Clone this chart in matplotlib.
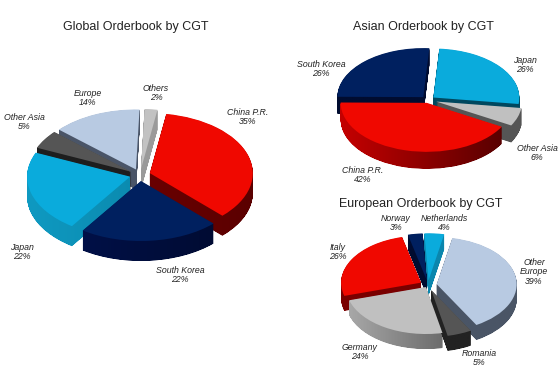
import numpy as np
import matplotlib
matplotlib.use("Agg")
import matplotlib.pyplot as plt
from matplotlib.colors import LinearSegmentedColormap
from matplotlib.path import Path
from matplotlib.patches import PathPatch

plt.rcParams['font.family'] = ['Liberation Sans', 'DejaVu Sans']

W, H = 560, 371

# Global
global_labels = ['Others', 'China P.R.', 'South Korea', 'Japan', 'Other Asia', 'Europe']
global_values = [2, 35, 22, 22, 5, 14]
global_explode = [0.10, 0.10, 0.10, 0.10, 0.10, 0.10]
global_top = ['#c2c2c2', '#f00800', '#00205f', '#0aabdc', '#555555', '#b8cae2']
global_side = [('#9a9a9a', '#9a9a9a'), ('#7a0000', '#5a0000'), ('#001250', '#000a2c'),
               ('#0f9ac2', '#067a9b'), ('#1e1e1e', '#1e1e1e'), ('#4a5568', '#4a5568')]
global_text = [(156, 93), (248, 117), (180, 275), (22, 252), (24, 122), (88, 98)]

# Asia
asia_labels = ['Japan', 'Other Asia', 'China P.R.', 'South Korea']
asia_values = [26, 6, 42, 26]
asia_explode = [0.08, 0.10, 0.06, 0.08]
asia_top = ['#0aabdc', '#c0c0c0', '#f00800', '#00205f']
asia_side = [('#00485f', '#00485f'), ('#555555', '#555555'), ('#cc0000', '#480000'), ('#000c30', '#000c30')]
asia_text = [(525, 65), (537, 153), (363, 175), (321, 69)]

# Europe
europe_labels = ['Netherlands', 'Other\nEurope', 'Romania', 'Germany', 'Italy', 'Norway']
europe_values = [4, 39, 5, 24, 26, 3]
europe_explode = [0.10, 0.11, 0.11, 0.05, 0.10, 0.10]
europe_top = ['#0aabdc', '#b8cae2', '#555555', '#c0c0c0', '#f00800', '#00205f']
europe_side = [('#0b86ad', '#0b86ad'), ('#4a5566', '#4a5566'), ('#222222', '#222222'),
               ('#b0b0b0', '#3a3a3a'), ('#7a0000', '#7a0000'), ('#000c30', '#000c30')]
europe_text = [(444, 223), (534, 272), (479, 358), (360, 352), (338, 252), (396, 223)]

fig = plt.figure(figsize=(W / 100, H / 100), dpi=100, facecolor='white')


def draw_pie(values, explode, top, side, cx, cy, rx, ry, depth, start):
    pad = 1.5
    hy = pad + depth / ry
    ax = fig.add_axes([(cx - pad * rx) / W, 1 - (cy + hy * ry) / H, 2 * pad * rx / W, 2 * hy * ry / H])
    limits = dict(xlim=(-pad, pad), ylim=(-hy, hy))
    n_layers = int(depth * 2)
    offsets = [-depth / ry * i / n_layers for i in range(n_layers, -1, -1)]
    paths = [[] for _ in values]
    top_wedges = None
    for off in offsets:
        wedges, _ = ax.pie(values, explode=explode, center=(0, off), radius=1, startangle=start,
                           counterclock=False, colors=top, normalize=True,
                           wedgeprops=dict(linewidth=0))
        for i, w in enumerate(wedges):
            if off == offsets[-1]:
                continue
            paths[i].append(w.get_path().transformed(w.get_patch_transform()))
            w.remove()
        if off == offsets[-1]:
            top_wedges = wedges
    ax.set_aspect('auto')
    for i, w in enumerate(top_wedges):
        mid = np.radians((w.theta1 + w.theta2) / 2)
        base = 10 - 4 * np.sin(mid)
        w.set_zorder(base + 0.5)
        cmap = LinearSegmentedColormap.from_list('s', list(side[i]))
        im = ax.imshow(np.linspace(0, 1, 256)[None, :], cmap=cmap, aspect='auto',
                       extent=(-1.15, 1.15, -hy, hy), zorder=base, interpolation='bilinear')
        compound = Path.make_compound_path(*paths[i])
        clip = PathPatch(compound, transform=ax.transData, facecolor='none', edgecolor='none')
        im.set_clip_path(clip)
    ax.set(**limits)
    ax.patch.set_alpha(0)
    ax.axis('off')
    return ax


draw_pie(global_values, global_explode, global_top, global_side, 140, 175, 103, 60, 20, 88)
draw_pie(asia_values, asia_explode, asia_top, asia_side, 428, 100, 86, 49, 17, 86)
draw_pie(europe_values, europe_explode, europe_top, europe_side, 428, 285, 80, 47, 15, 93)


def label(x, y, txt):
    fig.text(x / W, 1 - y / H, txt, ha='center', va='center', fontsize=6.3, style='italic',
             color='#222222', linespacing=1.1)


def label_all(labels, values, coords):
    for lab, val, (x, y) in zip(labels, values, coords):
        label(x, y, f'{lab}\n{val}%')


label_all(global_labels, global_values, global_text)
label_all(asia_labels, asia_values, asia_text)
label_all(europe_labels, europe_values, europe_text)

for x, y, t in [(136, 27, 'Global Orderbook by CGT'),
                (423, 27, 'Asian Orderbook by CGT'),
                (421, 204, 'European Orderbook by CGT')]:
    fig.text(x / W, 1 - y / H, t, ha='center', va='center', fontsize=9, color='#222222')

fig.savefig('out.png', dpi=100)
